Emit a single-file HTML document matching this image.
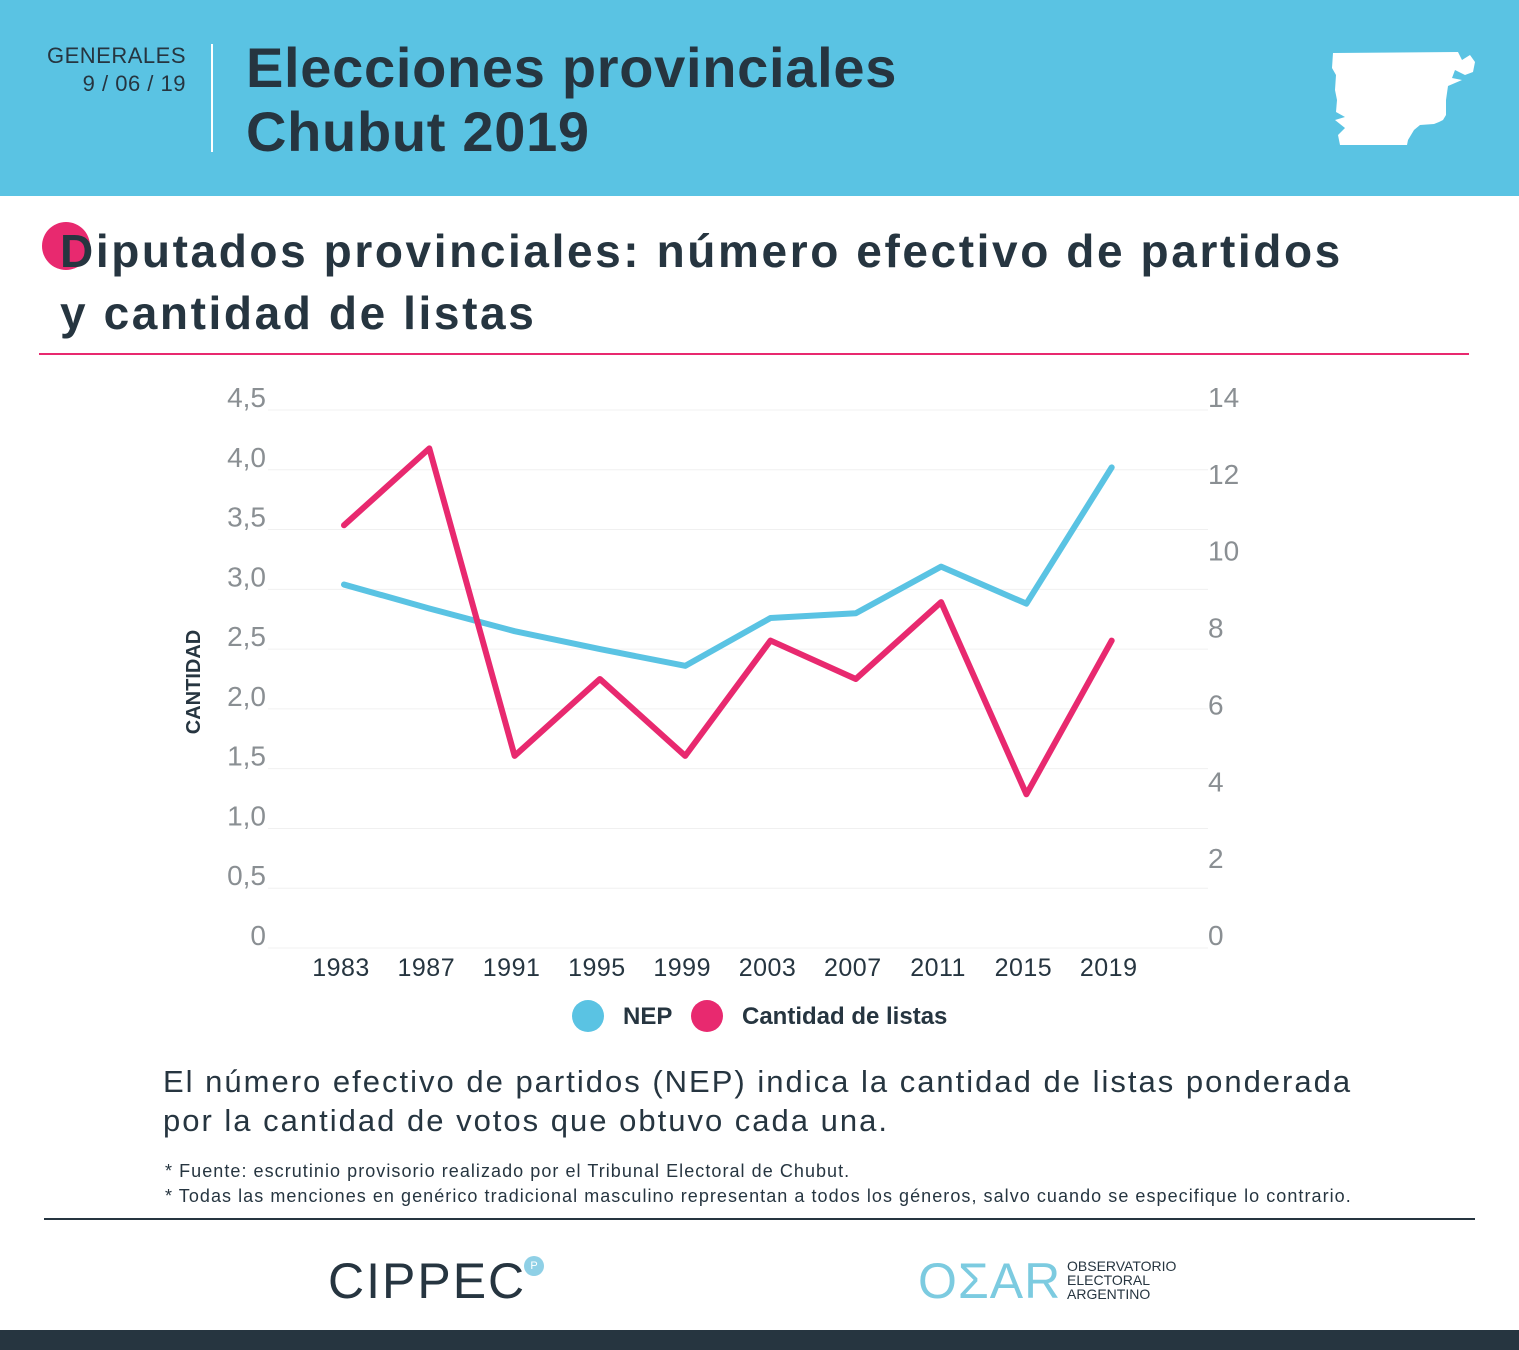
<!DOCTYPE html>
<html><head><meta charset="utf-8">
<style>
body{margin:0;width:1519px;height:1350px;position:relative;background:#fff;font-family:"Liberation Sans",sans-serif;overflow:hidden;color:#263540}
.abs{position:absolute}
</style></head><body>
<div class="abs" style="left:0;top:0;width:1519px;height:196px;background:#5ac3e3"></div>
<div class="abs" style="left:20px;top:42px;width:166px;text-align:right;font-size:22px;color:#263540;line-height:28px;letter-spacing:0.5px">GENERALES<br>9 / 06 / 19</div>
<div class="abs" style="left:211px;top:44px;width:2px;height:108px;background:#fff"></div>
<div class="abs" style="left:246px;top:36px;font-size:56px;font-weight:bold;line-height:64px;color:#263540;letter-spacing:0.7px">Elecciones provinciales<br>Chubut 2019</div>
<svg class="abs" style="left:0;top:0" width="1519" height="196"><path d="M1333,53 L1458,52 L1462,60 L1470,55 L1475,62 L1473,72 L1465,75 L1455,70 L1452,78 L1462,80 L1448,86 L1446,100 L1446,115 L1443,120 L1439,122 L1434,124 L1420,125 L1414,130 L1408,140 L1407,145 L1340,145 L1338,135 L1345,128 L1335,120 L1345,117 L1336,112 L1337,100 L1335,90 L1336,75 L1332,68 Z" fill="#fff"/></svg>

<div class="abs" style="left:42px;top:222px;width:48px;height:48px;border-radius:50%;background:#e8296f"></div>
<div class="abs" style="left:60px;top:220px;font-size:46px;font-weight:bold;line-height:62px;color:#263540;letter-spacing:2.6px">Diputados provinciales: número efectivo de partidos<br>y cantidad de listas</div>
<div class="abs" style="left:39px;top:353px;width:1430px;height:2px;background:#e8296f"></div>

<svg class="abs" id="chart" style="left:0;top:370px" width="1519" height="680"></svg>

<div class="abs" style="left:163px;top:1062px;font-size:31px;line-height:39px;color:#263540;letter-spacing:2px">El número efectivo de partidos (NEP) indica la cantidad de listas ponderada<br>por la cantidad de votos que obtuvo cada una.</div>
<div class="abs" style="left:165px;top:1159px;font-size:18px;line-height:25px;color:#263540;letter-spacing:1.05px">* Fuente: escrutinio provisorio realizado por el Tribunal Electoral de Chubut.<br>* Todas las menciones en genérico tradicional masculino representan a todos los géneros, salvo cuando se especifique lo contrario.</div>
<div class="abs" style="left:44px;top:1218px;width:1431px;height:2px;background:#263540"></div>
<div class="abs" style="left:328px;top:1252px;font-size:50px;letter-spacing:2px;color:#263540">CIPPEC</div>
<div class="abs" style="left:524px;top:1256px;width:20px;height:20px;border-radius:50%;background:#8fd0e6;color:#fff;font-size:11px;text-align:center;line-height:20px">P</div>
<div class="abs" style="left:918px;top:1252px;font-size:50px;color:#7ccbe0;letter-spacing:1px">OΣAR</div>
<div class="abs" style="left:1067px;top:1259px;font-size:14px;line-height:14px;color:#263540">OBSERVATORIO<br>ELECTORAL<br>ARGENTINO</div>
<div class="abs" style="left:0;top:1330px;width:1519px;height:20px;background:#263540"></div>

<script>
const years=["1983","1987","1991","1995","1999","2003","2007","2011","2015","2019"];
const nep=[3.04,2.84,2.65,2.50,2.36,2.76,2.80,3.19,2.88,4.02];
const listas=[11,13,5,7,5,8,7,9,4,8];
const leftTicks=["0","0,5","1,0","1,5","2,0","2,5","3,0","3,5","4,0","4,5"];
const leftVals=[0,0.5,1,1.5,2,2.5,3,3.5,4,4.5];
const rightVals=[0,2,4,6,8,10,12,14];
const NS="http://www.w3.org/2000/svg";
const svg=document.getElementById('chart');
const y0=578,yTop=40;
const yL=v=>y0-(v/4.5)*(y0-yTop);
const yR=v=>y0-(v/14)*(y0-yTop);
const x=i=>344+i*85.3;
function mk(t,a){const e=document.createElementNS(NS,t);for(const k in a)e.setAttribute(k,a[k]);svg.appendChild(e);return e;}
leftVals.forEach((v,i)=>{
 const g=mk('line',{x1:268,x2:1208,y1:yL(v),y2:yL(v),stroke:'#f0f0f0','stroke-width':1});
 
 
 const t=mk('text',{x:266,y:yL(v)-3,'text-anchor':'end','font-size':28,fill:'#8a8f93','font-family':'Liberation Sans'});
 t.textContent=leftTicks[i];
 
 
});
rightVals.forEach(v=>{
 const t=mk('text',{x:1208,y:yR(v)-3,'font-size':28,fill:'#8a8f93','font-family':'Liberation Sans'});
 t.textContent=String(v);
 
 
});
years.forEach((yr,i)=>{
 const t=mk('text',{x:x(i)-3,y:606,'text-anchor':'middle','font-size':25,fill:'#263540','font-family':'Liberation Sans','letter-spacing':'0.5'});
 t.textContent=yr;
 
 
});
const yt=mk('text',{transform:'translate(200,312) rotate(-90)','text-anchor':'middle','font-size':20,'font-weight':'bold',fill:'#263540','font-family':'Liberation Sans'});
yt.textContent='CANTIDAD';


const p1=mk('polyline',{points:nep.map((v,i)=>x(i)+','+yL(v)).join(' '),fill:'none',stroke:'#5ac3e3','stroke-width':6,'stroke-linejoin':'round','stroke-linecap':'round'});


const p2=mk('polyline',{points:listas.map((v,i)=>x(i)+','+yR(v)).join(' '),fill:'none',stroke:'#e8296f','stroke-width':6,'stroke-linejoin':'round','stroke-linecap':'round'});


const c1=mk('circle',{cx:588,cy:646,r:16,fill:'#5ac3e3'});


const l1=mk('text',{x:623,y:654,'font-size':24,'font-weight':'bold',fill:'#263540','font-family':'Liberation Sans'});
l1.textContent='NEP';


const c2=mk('circle',{cx:707,cy:646,r:16,fill:'#e8296f'});


const l2=mk('text',{x:742,y:654,'font-size':24,'font-weight':'bold',fill:'#263540','font-family':'Liberation Sans'});
l2.textContent='Cantidad de listas';


</script>
</body></html>
